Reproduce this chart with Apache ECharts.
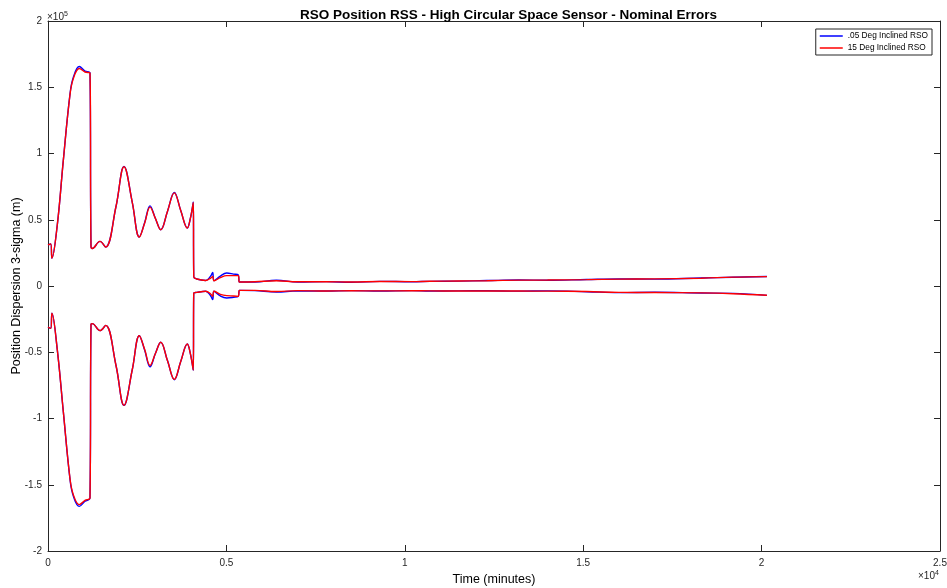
<!DOCTYPE html>
<html>
<head>
<meta charset="utf-8">
<script src="https://cdn.jsdelivr.net/npm/echarts@6/dist/echarts.min.js"></script>
<style>
html,body{margin:0;padding:0;background:#fff;}
#chart{width:947px;height:588px;}
</style>
</head>
<body>
<div id="chart"></div>
<script>
// ---- data ----
const titleText = 'RSO Position RSS - High Circular Space Sensor - Nominal Errors';
const seriesNames = ['.05 Deg Inclined RSO', '15 Deg Inclined RSO'];
const xTicks = [0, 5000, 10000, 15000, 20000, 25000];
const yTicks = [-200000, -150000, -100000, -50000, 0, 50000, 100000, 150000, 200000];

// time (minutes)
const time = [0, 75, 110, 260, 430, 617, 710, 877, 1037, 1177, 1205, 1242, 1457, 1617, 1906, 2130, 2363, 2559, 2710, 2859,
  3010, 3159, 3350, 3540, 3720, 3904, 3990, 4072, 4085, 4168, 4420, 4560, 4616, 4652, 4830, 5008, 5200, 5333, 5361,
  5400, 5800, 6400, 7000, 7800, 8500, 9300, 10200, 10700, 11500, 12300, 13200, 14000, 15100, 16000, 17000, 18300, 19200, 20150];

// upper envelope (+3 sigma), .05 deg
const upperA = [31000, 31700, 21000, 46000, 95000, 145000, 157500, 165700, 162200, 160700, 30000, 28300, 33700, 29400, 60000, 90300, 63000, 37000, 48000, 60500,
  51000, 42500, 56500, 70600, 57000, 43800, 51000, 63400, 7000, 5300, 4200, 7500, 10300, 4000, 7500, 9800, 9000, 8300, 3000,
  3000, 3000, 4300, 3000, 3300, 2800, 3500, 3200, 3500, 3700, 4100, 4500, 4300, 4900, 5300, 5200, 6000, 6600, 7200];
// upper envelope (+3 sigma), 15 deg
const upperB = [31000, 31700, 21000, 46000, 95000, 144500, 156500, 164200, 161500, 160700, 30000, 28300, 33700, 29400, 60000, 90000, 63000, 37000, 47500, 59500,
  51000, 42500, 56500, 70300, 57000, 43800, 51000, 63000, 7000, 5300, 4200, 6000, 7200, 4000, 6300, 7800, 7800, 7800, 3000,
  3000, 3200, 4000, 3200, 3300, 3000, 3400, 3300, 3600, 3800, 4000, 4400, 4500, 4800, 5200, 5400, 5900, 6700, 7100];
// lower envelope (-3 sigma), .05 deg
const lowerA = [-31000, -32000, -20500, -48000, -95000, -146000, -158500, -166300, -162500, -160000, -29000, -28400, -33700, -29700, -60000, -90100, -63000, -37500, -48500, -61000,
  -51000, -42500, -56500, -70700, -57000, -43800, -51000, -63700, -5300, -4800, -4000, -7500, -10300, -4000, -7500, -9000, -8500, -7800, -3300,
  -3300, -3500, -4500, -3700, -3800, -3500, -3800, -3500, -3800, -3700, -3600, -3900, -3700, -4300, -5000, -4700, -5300, -5600, -7100];
// lower envelope (-3 sigma), 15 deg
const lowerB = [-31000, -32000, -20500, -48000, -95000, -145500, -157500, -165000, -161800, -160000, -29000, -28400, -33700, -29700, -60000, -90000, -63000, -37500, -48000, -60000,
  -51000, -42500, -56500, -70500, -57000, -43800, -51000, -63500, -5300, -4800, -4000, -6000, -7800, -4000, -6300, -7300, -7500, -7800, -3300,
  -3300, -3300, -4200, -3500, -3800, -3600, -3700, -3600, -3700, -3800, -3700, -3800, -3900, -4200, -4800, -4900, -5200, -5800, -7000];

const pairs = (vals) => time.map((t, i) => [t, vals[i]]);

const FONT = '"Liberation Sans", Arial, Helvetica, sans-serif';
const AX = '#262626';

function lineSeries(name, vals, color, z) {
  return {
    name: name, type: 'line', data: pairs(vals), symbol: 'none', showSymbol: false,
    smooth: 0.4, z: z, animation: false,
    lineStyle: { color: color, width: 1.4 }, itemStyle: { color: color },
    xAxisIndex: 0, yAxisIndex: 0
  };
}

const chart = echarts.init(document.getElementById('chart'), null, { renderer: 'canvas' });
const baseAxis = {
  axisLine: { show: true, onZero: false, lineStyle: { color: AX, width: 1 } },
  axisTick: { show: true, inside: true, length: 6, lineStyle: { color: AX, width: 1 } },
  splitLine: { show: false }
};
const option = {
  animation: false,
  backgroundColor: '#fff',
  title: {
    text: titleText, left: 295, top: 3,
    textStyle: { fontFamily: FONT, fontSize: 13.5, fontWeight: 'bold', color: '#000' }
  },
  legend: {
    data: seriesNames, orient: 'vertical', right: 15, top: 29,
    icon: 'rect',
    backgroundColor: '#fff', borderColor: AX, borderWidth: 1, padding: [3, 4, 3, 4],
    itemGap: 4, itemWidth: 23, itemHeight: 1.5,
    textStyle: { fontFamily: FONT, fontSize: 8.3, color: '#000' }
  },
  grid: { left: 48, right: 7, top: 21, bottom: 37, containLabel: false, outerBoundsMode: 'none' },
  xAxis: [
    Object.assign({}, baseAxis, {
      type: 'value', position: 'bottom', min: 0, max: 25000, interval: 5000,
      name: 'Time (minutes)', nameLocation: 'middle', nameGap: 20,
      nameTextStyle: { fontFamily: FONT, fontSize: 12.5, color: '#000' },
      axisLabel: { fontFamily: FONT, fontSize: 10, color: AX, margin: 7,
        formatter: (v) => xTicks.indexOf(v) >= 0 ? String(v / 10000) : '' }
    }),
    Object.assign({}, baseAxis, {
      type: 'value', position: 'top', min: 0, max: 25000, interval: 5000,
      axisLabel: { show: false }
    })
  ],
  yAxis: [
    Object.assign({}, baseAxis, {
      type: 'value', position: 'left', min: -200000, max: 200000, interval: 50000,
      name: 'Position Dispersion 3-sigma (m)', nameLocation: 'middle', nameGap: 25,
      nameMoveOverlap: false,
      nameTextStyle: { fontFamily: FONT, fontSize: 12.5, color: '#000' },
      axisLabel: { fontFamily: FONT, fontSize: 10, color: AX, margin: 6,
        formatter: (v) => yTicks.indexOf(v) >= 0 ? String(v / 100000) : '' }
    }),
    Object.assign({}, baseAxis, {
      type: 'value', position: 'right', min: -200000, max: 200000, interval: 50000,
      axisLabel: { show: false }
    })
  ],
  graphic: [
    { type: 'text', left: 47, top: 11, style: {
        text: '×10{s|5}', fontFamily: FONT, fontSize: 10, fill: AX,
        rich: { s: { fontSize: 7, verticalAlign: 'top', padding: [0, 0, 6, 0], fill: AX } } } },
    { type: 'text', left: 918, top: 570, style: {
        text: '×10{s|4}', fontFamily: FONT, fontSize: 10, fill: AX,
        rich: { s: { fontSize: 7, verticalAlign: 'top', padding: [0, 0, 6, 0], fill: AX } } } }
  ],
  series: [
    lineSeries(seriesNames[0], upperA, '#0000ff', 2),
    lineSeries(seriesNames[0], lowerA, '#0000ff', 2),
    lineSeries(seriesNames[1], upperB, '#ff0000', 3),
    lineSeries(seriesNames[1], lowerB, '#ff0000', 3)
  ]
};
chart.setOption(option);
</script>
</body>
</html>
